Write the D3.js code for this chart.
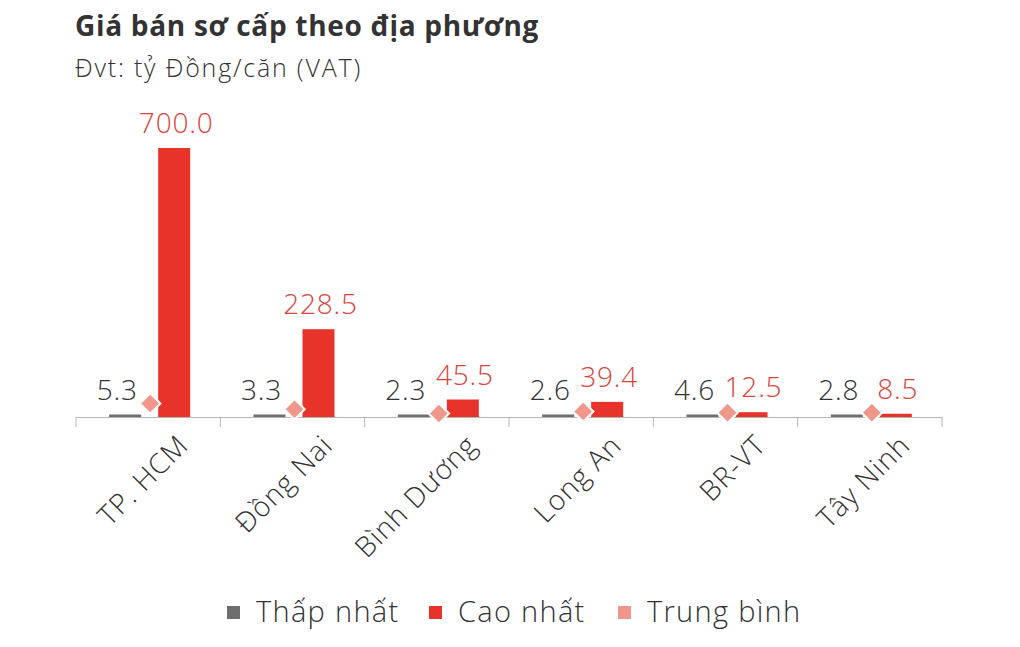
<!DOCTYPE html>
<html>
<head>
<meta charset="utf-8">
<script src="https://cdn.jsdelivr.net/npm/d3@7"></script>
<style>
  body { margin: 0; background: #fff; }
  svg { font-family: "Open Sans", "Noto Sans", sans-serif; }
</style>
</head>
<body>
<svg id="chart"></svg>
<script>
var w = 1020,
    h = 647;

var regions = ["TP. HCM", "Đồng Nai", "Bình Dương", "Long An", "BR-VT", "Tây Ninh"];
var lowest = [5.3, 3.3, 2.3, 2.6, 4.6, 2.8];
var highest = [700.0, 228.5, 45.5, 39.4, 12.5, 8.5];
var average = [30, 15, 4, 9, 6, 6];
var seriesNames = ["Thấp nhất", "Cao nhất", "Trung bình"];
var colors = ["#6e6e6e", "#e8332a", "#f0968a"];

var x0 = 76, x1 = 942, base = 417, yTop = 148;

var svg = d3.select("#chart").attr("width", w).attr("height", h);

svg.append("text")
  .attr("x", 75).attr("y", 36)
  .attr("font-size", 28).attr("font-weight", 700).attr("fill", "#333")
  .attr("letter-spacing", 0.7)
  .text("Giá bán sơ cấp theo địa phương");
svg.append("text")
  .attr("x", 75).attr("y", 77)
  .attr("font-size", 25).attr("font-weight", 300).attr("fill", "#333")
  .attr("letter-spacing", 1.8)
  .text("Đvt: tỷ Đồng/căn (VAT)");

var x = d3.scaleBand().domain(regions).range([x0, x1]);
var y = d3.scaleLinear().domain([0, 700]).range([base, yTop]);
var bw = 32;

var ax = svg.append("g").attr("transform", "translate(0," + base + ")")
  .call(d3.axisBottom(x).tickSize(0).tickFormat(""));
ax.select(".domain").attr("stroke", "#b5b5b5");
ax.selectAll(".tick").remove();
// ticks sit on the band edges
var edges = regions.map(function(d) { return x(d); }).concat([x1]);
ax.selectAll("line.edge").data(edges).enter().append("line")
  .attr("class", "edge")
  .attr("x1", function(d) { return d; }).attr("x2", function(d) { return d; })
  .attr("y1", 0).attr("y2", 10)
  .attr("stroke", "#b5b5b5");

var g = svg.append("g");
regions.forEach(function(r, i) {
  var cx = x(r) + x.bandwidth() / 2;
  g.append("rect")
    .attr("x", cx - 39).attr("width", bw)
    .attr("y", Math.min(y(lowest[i]), base - 2.5)).attr("height", Math.max(base - y(lowest[i]), 2.5))
    .attr("fill", colors[0]);
  g.append("rect")
    .attr("x", cx + 10).attr("width", bw)
    .attr("y", Math.min(y(highest[i]), base - 3)).attr("height", Math.max(base - y(highest[i]), 3))
    .attr("fill", colors[1]);
  g.append("path")
    .attr("d", d3.symbol(d3.symbolSquare, 210)())
    .attr("transform", "translate(" + (cx + 2) + "," + (y(average[i]) - 2) + ") rotate(45)")
    .attr("fill", colors[2]).attr("stroke", "#fff").attr("stroke-width", 2);
  g.append("text")
    .attr("x", cx - 31).attr("y", Math.min(y(lowest[i]), base - 3) - 14)
    .attr("text-anchor", "middle")
    .attr("font-size", 28).attr("font-weight", 300).attr("fill", "#333")
    .attr("letter-spacing", 0.8)
    .text(lowest[i].toFixed(1));
  g.append("text")
    .attr("x", cx + 28).attr("y", Math.min(y(highest[i]), base - 3) - 15)
    .attr("text-anchor", "middle")
    .attr("font-size", 28).attr("font-weight", 300).attr("fill", "#d9443a")
    .attr("letter-spacing", 0.8)
    .text(highest[i].toFixed(1));
  g.append("text")
    .attr("transform", "translate(" + (cx + 42) + "," + (base + 30) + ") rotate(-45)")
    .attr("text-anchor", "end")
    .attr("font-size", 28).attr("font-weight", 300).attr("fill", "#333")
    .attr("letter-spacing", 1)
    .text(r);
});

var legendX = [227, 429, 618];
var lg = svg.append("g");
seriesNames.forEach(function(n, i) {
  lg.append("rect")
    .attr("x", legendX[i]).attr("y", 606).attr("width", 13).attr("height", 13)
    .attr("fill", colors[i]);
  lg.append("text")
    .attr("x", legendX[i] + 29).attr("y", 622)
    .attr("font-size", 29).attr("font-weight", 300).attr("fill", "#333")
    .attr("letter-spacing", 1.3)
    .text(n);
});
</script>
</body>
</html>
